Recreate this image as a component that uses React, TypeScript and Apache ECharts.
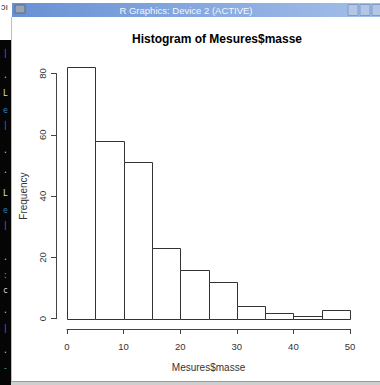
import React, { useEffect, useRef } from "react";
import * as echarts from "echarts";

// Histogram data (bin edges and frequencies)
const binEdges = [0, 5, 10, 15, 20, 25, 30, 35, 40, 45, 50];
const counts = [82, 58, 51, 23, 16, 12, 4, 2, 1, 3];
const xTicks = [0, 10, 20, 30, 40, 50];
const yTicks = [0, 20, 40, 60, 80];

const chartTitle = "Histogram of Mesures$masse";
const xTitle = "Mesures$masse";
const yTitle = "Frequency";
const windowTitle = "R Graphics: Device 2 (ACTIVE)";

// terminal glyphs visible behind the window (left strip)
const termGlyphs = ["|", ".", "L", "e", "|", ".", ".", "L", "e", "|", ".", ":", "c", ".", "|", ".", "-"];
const termYs = [53, 75, 93, 110, 125, 150, 170, 193, 210, 225, 257, 275, 290, 310, 328, 350, 368];
const termColors = ["#3b7fc4", "#cccccc", "#dddddd", "#3b7fc4", "#3b7fc4", "#cccccc", "#cccccc", "#dddddd", "#3b7fc4", "#3b7fc4", "#cccccc", "#2ab0b0", "#dddddd", "#cccccc", "#3b7fc4", "#cccccc", "#2ab0b0"];

const FONT = "'Liberation Sans', Arial, Helvetica, sans-serif";

export default function App() {
  const ref = useRef<HTMLDivElement>(null);

  useEffect(() => {
    if (!ref.current) return;
    const chart = echarts.init(ref.current, null, { renderer: "svg" });

    const histData = counts.map((c, i) => [binEdges[i], binEdges[i + 1], c]);

    // geometry (pixels)
    const x0 = 67, xw = 283; // x: 0 -> 67, 50 -> 350
    const y0 = 318.7, pxPerUnit = 3.065; // y: 0 -> 318.7
    const dataMax = 90;

    const glyphs = termGlyphs.map((g, i) => ({
      type: "text",
      left: 3,
      top: termYs[i] - 4,
      style: { text: g, fill: termColors[i], font: `8px 'DejaVu Sans Mono', monospace` },
      z: 100,
    }));

    const option: any = {
      animation: false,
      backgroundColor: "#ffffff",
      title: {
        text: chartTitle,
        left: 212,
        textAlign: "center",
        top: 28,
        textStyle: { fontFamily: FONT, fontSize: 12, fontWeight: "bold", color: "#000" },
      },
      grid: [
        // data grid
        { left: x0, width: xw, top: y0 - dataMax * pxPerUnit, height: dataMax * pxPerUnit, containLabel: false },
        // y axis grid (detached, R-style)
        { left: 56, width: 300, top: y0 - 80 * pxPerUnit, height: 80 * pxPerUnit, containLabel: false },
        // x axis grid (detached, R-style)
        { left: x0, width: xw, top: 100, height: 229, containLabel: false },
      ],
      xAxis: [
        { gridIndex: 0, type: "value", min: 0, max: 50, show: false },
        { gridIndex: 1, type: "value", min: 0, max: 1, show: false },
        {
          gridIndex: 2,
          type: "value",
          min: xTicks[0],
          max: xTicks[xTicks.length - 1],
          interval: xTicks[1] - xTicks[0],
          position: "bottom",
          axisLine: { show: true, lineStyle: { color: "#444", width: 1 } },
          axisTick: { show: true, length: 5, lineStyle: { color: "#444" } },
          splitLine: { show: false },
          axisLabel: { margin: 12, color: "#333", fontFamily: FONT, fontSize: 9.5, showMinLabel: true, showMaxLabel: true },
          name: xTitle,
          nameLocation: "middle",
          nameGap: 33,
          nameTextStyle: { color: "#333", fontFamily: FONT, fontSize: 10 },
        },
      ],
      yAxis: [
        { gridIndex: 0, type: "value", min: 0, max: dataMax, show: false },
        {
          gridIndex: 1,
          type: "value",
          min: yTicks[0],
          max: yTicks[yTicks.length - 1],
          interval: yTicks[1] - yTicks[0],
          position: "left",
          axisLine: { show: true, lineStyle: { color: "#444", width: 1 } },
          axisTick: { show: true, length: 5, lineStyle: { color: "#444" } },
          splitLine: { show: false },
          axisLabel: { rotate: 90, margin: 9, color: "#333", fontFamily: FONT, fontSize: 9.5, showMinLabel: true, showMaxLabel: true },
          name: yTitle,
          nameLocation: "middle",
          nameGap: 28,
          nameRotate: 90,
          nameTextStyle: { color: "#333", fontFamily: FONT, fontSize: 10 },
        },
        { gridIndex: 2, type: "value", min: 0, max: 1, show: false },
      ],
      series: [
        {
          type: "custom",
          xAxisIndex: 0,
          yAxisIndex: 0,
          encode: { x: [0, 1], y: 2 },
          data: histData,
          renderItem: (params: any, api: any) => {
            const a = api.coord([api.value(0), api.value(2)]);
            const b = api.coord([api.value(1), 0]);
            const xa = Math.round(a[0]) + 0.5;
            const xb = Math.round(b[0]) + 0.5;
            const ya = Math.round(a[1]) + 0.5;
            const yb = Math.round(b[1]) + 0.5;
            return {
              type: "rect",
              shape: { x: xa, y: ya, width: xb - xa, height: yb - ya },
              style: { fill: "#ffffff", stroke: "#333333", lineWidth: 1 },
            };
          },
        },
      ],
      graphic: [
        // window title bar
        {
          type: "rect",
          shape: { x: 12, y: 3, width: 368, height: 14 },
          style: {
            fill: new echarts.graphic.LinearGradient(0, 0, 1, 0, [
              { offset: 0, color: "#6891d4" },
              { offset: 1, color: "#a3bfe9" },
            ]),
          },
          z: 50,
        },
        {
          type: "rect",
          shape: { x: 15, y: 5, width: 10, height: 8 },
          style: { fill: "#9aa4b4", stroke: "#5d6b80", lineWidth: 1 },
          z: 51,
        },
        {
          type: "text",
          x: 186,
          y: 10,
          style: {
            text: windowTitle,
            fill: "#f4f7fc",
            font: `9.5px ${FONT}`,
            textAlign: "center",
            textVerticalAlign: "middle",
          },
          z: 51,
        },
        ...[348, 360, 372].map((bx) => ({
          type: "rect",
          shape: { x: bx, y: 4.5, width: 10, height: 11 },
          style: { fill: "#b3c6e6", stroke: "#7f9bc8", lineWidth: 1 },
          z: 51,
        })),
        // left dark terminal strip
        {
          type: "rect",
          shape: { x: 0, y: 40, width: 11, height: 345 },
          style: { fill: "#050505" },
          z: 50,
        },
        {
          type: "line",
          shape: { x1: 11.5, y1: 17, x2: 11.5, y2: 381 },
          style: { stroke: "#bdbdbd", lineWidth: 1 },
          z: 50,
        },
        {
          type: "text",
          x: 1,
          y: 2,
          style: { text: "ɔı", fill: "#333", font: `9px ${FONT}` },
          z: 50,
        },
        // bottom window border
        {
          type: "rect",
          shape: { x: 11, y: 381, width: 369, height: 4 },
          style: { fill: "#cfcfcf" },
          z: 50,
        },
        {
          type: "line",
          shape: { x1: 11, y1: 381.5, x2: 380, y2: 381.5 },
          style: { stroke: "#9a9a9a", lineWidth: 1 },
          z: 51,
        },
        ...glyphs,
      ],
    };

    chart.setOption(option);
    return () => chart.dispose();
  }, []);

  return (
    <div
      ref={ref}
      style={{ position: "fixed", left: 0, top: 0, width: 380, height: 385, background: "#fff" }}
    />
  );
}
